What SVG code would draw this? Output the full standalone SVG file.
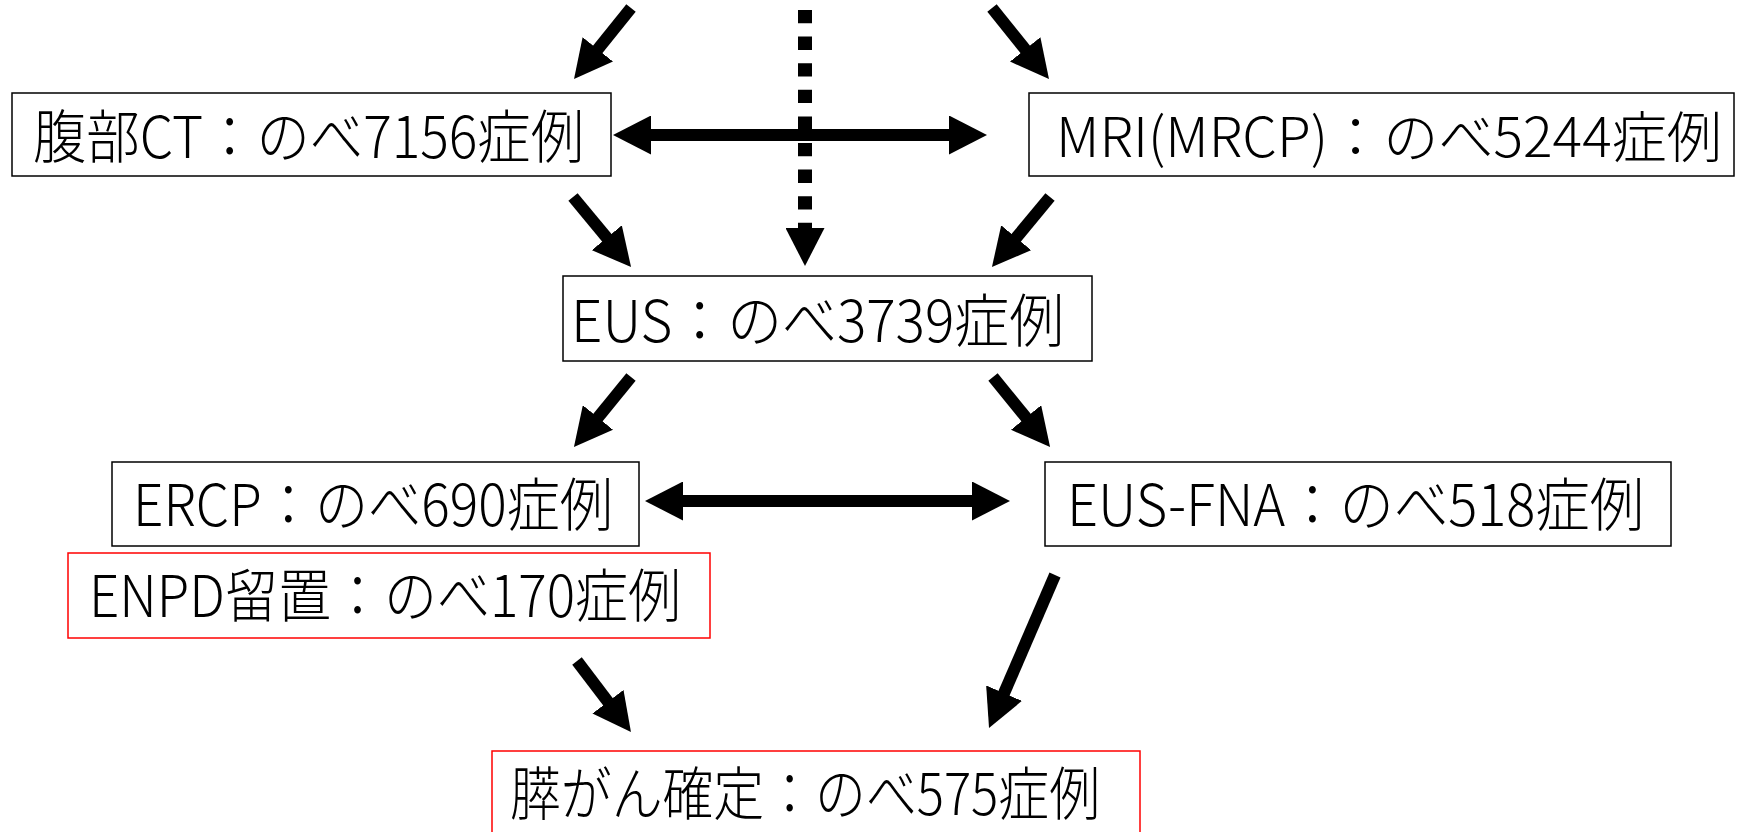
<svg xmlns="http://www.w3.org/2000/svg" width="1740" height="832" viewBox="0 0 1740 832">
<style>
.box{fill:#fff;stroke:#000;stroke-width:1.5}
.red{fill:#fff;stroke:#ff0000;stroke-width:1.5}
.t{font-family:"Noto Sans CJK JP","Noto Sans",sans-serif;font-size:58px;font-weight:300;fill:#000}
.s{font-size:55px}
.c{stroke:#000;stroke-width:12;fill:none;marker-end:url(#ah)}
.d{marker-start:url(#ah)}
.dot{stroke-width:14;stroke-dasharray:13.3 13.3}
</style>
<defs>
<marker id="ah" markerUnits="userSpaceOnUse" viewBox="0 0 38 39" markerWidth="38" markerHeight="39" refX="8" refY="19.5" orient="auto-start-reverse">
<path d="M0,0 L38,19.5 L0,39 z" fill="#000"/>
</marker>
</defs>
<rect width="1740" height="832" fill="#fff"/>
<g id="connectors">
<line class="c" x1="631" y1="8" x2="592.8" y2="55.6"/>
<line class="c dot" x1="805" y1="10" x2="805" y2="236"/>
<line class="c" x1="992" y1="8" x2="1030.2" y2="55.6"/>
<line class="c d" x1="643" y1="135" x2="957" y2="135"/>
<line class="c" x1="573" y1="197" x2="611.9" y2="243.9"/>
<line class="c" x1="1050" y1="197" x2="1011.1" y2="243.9"/>
<line class="c" x1="631" y1="377" x2="592.9" y2="423.7"/>
<line class="c" x1="993" y1="377" x2="1031.1" y2="423.7"/>
<line class="c d" x1="675" y1="501" x2="980" y2="501"/>
<line class="c" x1="577" y1="661" x2="612.8" y2="708.1"/>
<line class="c" x1="1055" y1="575" x2="1000.9" y2="700.5"/>
</g>
<g id="ct">
<rect class="box" x="12" y="93" width="599" height="83"/>
<text class="t" x="33" y="158" textLength="551" lengthAdjust="spacingAndGlyphs">腹部CT：のべ7156症例</text>
</g>
<g id="mri">
<rect class="box" x="1029" y="93" width="705" height="83"/>
<text class="t s" x="1056" y="157" textLength="666" lengthAdjust="spacingAndGlyphs">MRI(MRCP)：のべ5244症例</text>
</g>
<g id="eus">
<rect class="box" x="563" y="276" width="529" height="85"/>
<text class="t" x="571" y="342" textLength="493" lengthAdjust="spacingAndGlyphs">EUS：のべ3739症例</text>
</g>
<g id="ercp">
<rect class="box" x="112" y="462" width="527" height="84"/>
<text class="t" x="133" y="526" textLength="480" lengthAdjust="spacingAndGlyphs">ERCP：のべ690症例</text>
</g>
<g id="eusfna">
<rect class="box" x="1045" y="462" width="626" height="84"/>
<text class="t" x="1067" y="526" textLength="577" lengthAdjust="spacingAndGlyphs">EUS-FNA：のべ518症例</text>
</g>
<g id="enpd">
<rect class="red" x="68" y="553" width="642" height="85"/>
<text class="t" x="89" y="617" textLength="592" lengthAdjust="spacingAndGlyphs">ENPD留置：のべ170症例</text>
</g>
<g id="cancer">
<rect class="red" x="492" y="751" width="648" height="100"/>
<text class="t" x="510" y="815" textLength="590" lengthAdjust="spacingAndGlyphs">膵がん確定：のべ575症例</text>
</g>
</svg>
